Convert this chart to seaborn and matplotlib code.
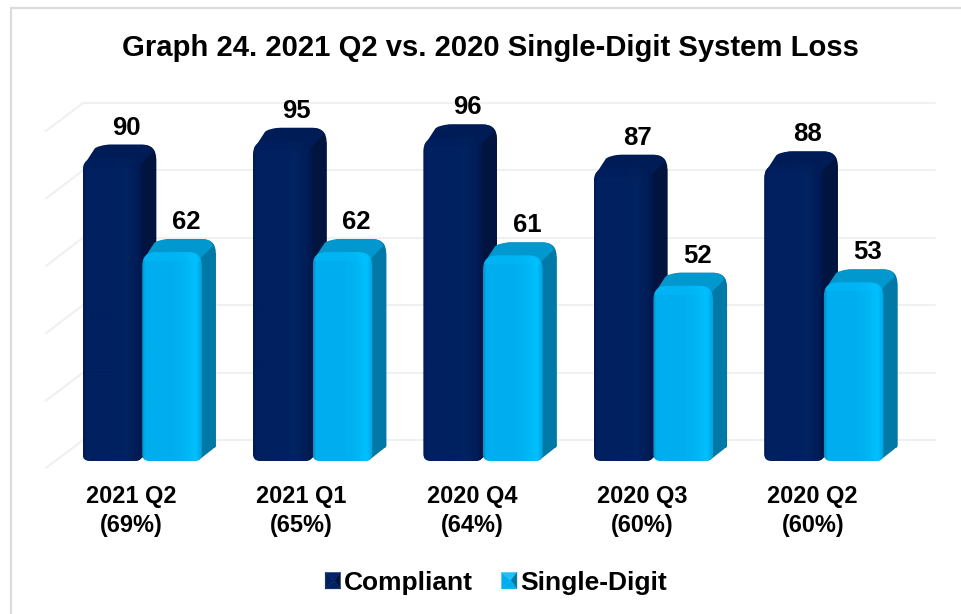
import numpy as np
import pandas as pd
import matplotlib
matplotlib.use("Agg")
import matplotlib.pyplot as plt
import seaborn as sns
from matplotlib.colors import LinearSegmentedColormap
from matplotlib.legend_handler import HandlerBase
from matplotlib.patches import PathPatch, Polygon, Patch, Rectangle
from matplotlib.path import Path
from matplotlib.transforms import IdentityTransform, ScaledTranslation

quarters = ["2021 Q2\n(69%)", "2021 Q1\n(65%)", "2020 Q4\n(64%)", "2020 Q3\n(60%)", "2020 Q2\n(60%)"]
compliant = [90, 95, 96, 87, 88]
single_digit = [62, 62, 61, 52, 53]
grid_values = [0, 20, 40, 60, 80, 100]

W, H, DPI = 961, 614, 100
DEPTH_X, DEPTH_Y = 14, 13   # extrusion of the bars, px
R = 14                      # corner radius, px

DARK = ["#001a52", "#002060", "#002060", "#00235f", "#001d58", "#00164a"]
LIGHT = ["#0090c8", "#00aeef", "#00aeef", "#00b4f2", "#00c0ff", "#00a4e0"]
DARK_SIDE, DARK_TOP = "#00143f", "#001c56"
LIGHT_SIDE, LIGHT_TOP = "#0079a6", "#0098cf"

sns.set_theme(style="white")
plt.rcParams["font.family"] = ["Liberation Sans", "DejaVu Sans"]

df = pd.DataFrame({
    "Quarter": quarters * 2,
    "Value": compliant + single_digit,
    "Series": ["Compliant"] * 5 + ["Single-Digit"] * 5,
})

fig = plt.figure(figsize=(W / DPI, H / DPI), dpi=DPI, facecolor="white")
# cat 0 sits at x=142 px, front baseline at y=461 px, 3.37 px per unit
ax = fig.add_axes([57 / W, (H - 461) / H, 852 / W, 337 / H])
sns.barplot(data=df, x="Quarter", y="Value", hue="Series", palette=[DARK[1], LIGHT[1]],
            width=0.7, gap=0, dodge=True, saturation=1, legend=False, ax=ax, zorder=3)
ax.set_xlim(-0.5, 4.5)
ax.set_ylim(0, 100)
ax.set_xlabel("")
ax.set_ylabel("")
ax.set_yticks([])
sns.despine(ax=ax, left=True, bottom=True)
ax.patch.set_alpha(0)
ax.tick_params(axis="x", length=0, pad=17)
shift = ScaledTranslation(-11 / DPI, 0, fig.dpi_scale_trans)
for lab in ax.get_xticklabels():
    lab.set_fontsize(16.9)
    lab.set_fontweight("bold")
    lab.set_color("black")
    lab.set_linespacing(1.36)
    lab.set_transform(lab.get_transform() + shift)

fig.canvas.draw()
to_px = ax.transData.transform
px = IdentityTransform()

# back wall and side wall gridlines
for g in grid_values:
    y = to_px((0, g))[1] + 21
    ax.plot([83, 935], [y, y], color="#f0f0f0", lw=1.5, transform=px, clip_on=False, zorder=1)
    ax.plot([46, 83], [y - 28, y], color="#f0f0f0", lw=1.5, transform=px, clip_on=False, zorder=1)


def rounded_rect(x0, y0, x1, y1, r, rb=7):
    c = Path.CURVE3
    verts = [(x0 + rb, y0), (x1 - rb, y0), (x1, y0), (x1, y0 + rb), (x1, y1 - r), (x1, y1), (x1 - r, y1),
             (x0 + r, y1), (x0, y1), (x0, y1 - r), (x0, y0 + rb), (x0, y0), (x0 + rb, y0), (x0 + rb, y0)]
    codes = [Path.MOVETO, Path.LINETO, c, c, Path.LINETO, c, c,
             Path.LINETO, c, c, Path.LINETO, c, c, Path.CLOSEPOLY]
    return Path(verts, codes)


def draw_bar(bar, stops, side, top):
    (x0, y0), (x1, y1) = to_px([(bar.get_x(), 0), (bar.get_x() + bar.get_width(), bar.get_height())])
    dx, dy = DEPTH_X, DEPTH_Y
    # back outline in the side colour, joined to the front by the side wall
    body = rounded_rect(x0 + dx, y0 + dy, x1 + dx, y1 + dy, R, rb=2)
    ax.add_patch(PathPatch(body, fc=side, ec="none", transform=px, clip_on=False, zorder=3))
    ax.add_patch(Polygon([(x1 + dx, y1 + dy - R), (x1 - 2, y1 - 4), (x1 - 8, y0), (x1 - 3, y0 + 1), (x1 + dx - 3, y0 + dy - 1),
                          (x1 + dx, y0 + dy + 2)], fc=side, ec="none", transform=px, clip_on=False, zorder=3))
    # top face, rounded along its far edge
    c = Path.CURVE3
    top_path = Path([(x0 + 1, y1 - 8), (x0 + dx - 2, y1 + dy - 4), (x0 + dx + 1, y1 + dy - 1), (x0 + dx + R - 3, y1 + dy),
                     (x1 + dx - R, y1 + dy), (x1 + dx - 4, y1 + dy), (x1 + dx - 3, y1 + dy - 7),
                     (x1 - 3, y1 - 8), (x0 + 1, y1 - 8)],
                    [Path.MOVETO, Path.LINETO, c, c, Path.LINETO, c, c, Path.LINETO, Path.CLOSEPOLY])
    ax.add_patch(PathPatch(top_path, fc=top, ec="none", transform=px, clip_on=False, zorder=3))

    # front face with horizontal shading, clipped to the rounded outline
    front = rounded_rect(x0, y0, x1, y1, R)
    bar.set_visible(False)
    cmap = LinearSegmentedColormap.from_list("face", list(zip([0, 0.05, 0.5, 0.72, 0.9, 1], stops)))
    img = ax.imshow(np.linspace(0, 1, 120)[None, :], cmap=cmap, aspect="auto", zorder=4,
                    extent=(x0, x1, y0, y1), transform=px, clip_on=True)
    clip = PathPatch(front, fc="none", ec="none", transform=px)
    ax.add_patch(clip)
    img.set_clip_path(clip)
    # bevel along the top edge and a highlight near the right corner
    bevel = Rectangle((x0, y1 - 9), x1 - x0, 9, fc=stops[4], ec="none", alpha=0.35, transform=px, zorder=5)
    ax.add_patch(bevel)
    bevel.set_clip_path(clip)
    ax.scatter([x1 - 8], [y1 - 9], s=30, color=stops[4], alpha=0.5, lw=0, transform=px, zorder=5, clip_on=False)


dark_bars = ax.containers[0]
light_bars = ax.containers[1]
for bars, stops, side, top in ((dark_bars, DARK, DARK_SIDE, DARK_TOP), (light_bars, LIGHT, LIGHT_SIDE, LIGHT_TOP)):
    for bar in bars:
        draw_bar(bar, stops, side, top)
        ax.set_xlim(-0.5, 4.5)
        ax.set_ylim(0, 100)

for bars in (dark_bars, light_bars):
    for bar in bars:
        ax.annotate(f"{bar.get_height():.0f}", (bar.get_x() + bar.get_width() / 2, bar.get_height()),
                    xytext=(14, 18), textcoords="offset pixels", ha="center", va="bottom",
                    fontsize=18.5, fontweight="bold", color="black", annotation_clip=False, zorder=6)

fig.text(490.5 / W, 1 - 48 / H, "Graph 24. 2021 Q2 vs. 2020 Single-Digit System Loss",
         ha="center", va="center", fontsize=21.05, fontweight="bold", color="black")


class PyramidHandler(HandlerBase):
    # legend key drawn as a small bevelled square, like the bars
    def create_artists(self, legend, orig, xd, yd, w, h, fs, trans):
        x0, y0, x1, y1 = xd * -1, yd * -1, xd * -1 + w, yd * -1 + h
        cx, cy = x0 + w * 0.6, y0 + h * 0.5
        base, side, top = orig.faces
        faces = [([(x0, y0), (x0, y1), (cx, cy)], base), ([(x0, y1), (x1, y1), (cx, cy)], top),
                 ([(x1, y1), (x1, y0), (cx, cy)], side), ([(x1, y0), (x0, y0), (cx, cy)], base)]
        return [Polygon(v, fc=c, ec=c, lw=0.3, transform=trans) for v, c in faces]


h1 = Patch(label="Compliant")
h1.faces = (DARK[1], DARK_SIDE, "#00236b")
h2 = Patch(label="Single-Digit")
h2.faces = (LIGHT[1], LIGHT_SIDE, "#1cc0f5")
leg = fig.legend(handles=[h1, h2], handler_map={Patch: PyramidHandler()}, loc="center", ncol=2, frameon=False,
                 bbox_to_anchor=(496 / W, 1 - 583 / H), prop={"size": 19, "weight": "bold"}, labelcolor="black",
                 handlelength=0.58, handleheight=0.58, handletextpad=0.12, columnspacing=1.1)

# frame of the original picture: only top and left edges
fig.add_artist(plt.Line2D([11, W], [H - 8, H - 8], color="#dcdcdc", lw=1.6, transform=px))
fig.add_artist(plt.Line2D([11, 11], [0, H - 8], color="#dcdcdc", lw=1.6, transform=px))

fig.savefig("out.png", dpi=DPI)
